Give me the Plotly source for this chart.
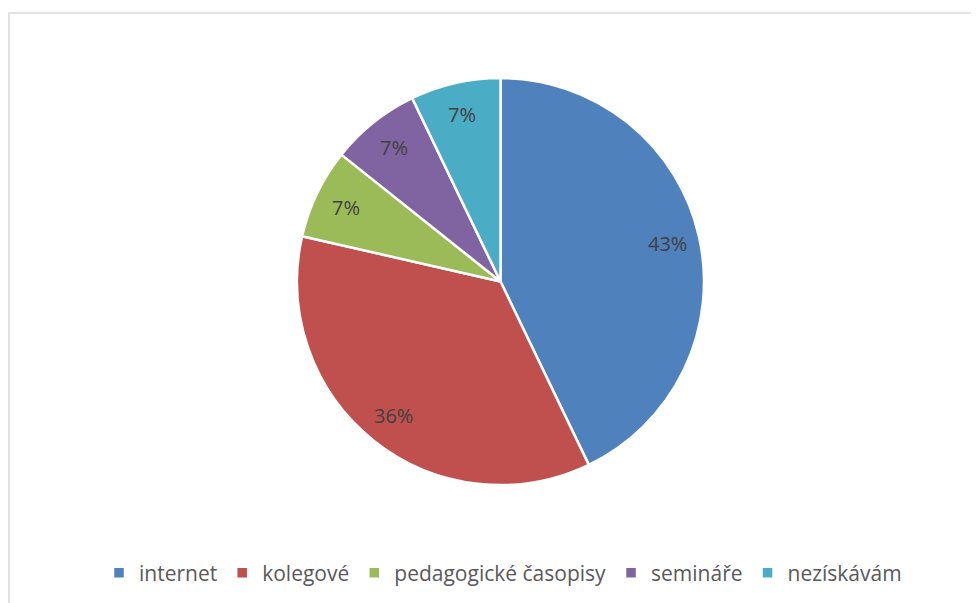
import math
import plotly.graph_objects as go

categories = ["internet", "kolegové", "pedagogické časopisy", "semináře", "nezískávám"]
counts = [6, 5, 1, 1, 1]
colors = ["#4F81BD", "#C0504D", "#9BBB59", "#8064A2", "#4BACC6"]

OFF = 8  # page body margin
W, H = 979 - OFF, 603 - OFF
CX, CY, RAD = 500.5 - OFF, 281.5 - OFF, 203.5  # pie centre / radius in figure pixels
LABEL_R = 0.84

fig = go.Figure(go.Pie(
    labels=categories,
    values=counts,
    sort=False,
    direction="clockwise",
    rotation=0,
    domain=dict(x=[(CX - RAD) / W, (CX + RAD) / W],
                y=[1 - (CY + RAD) / H, 1 - (CY - RAD) / H]),
    marker=dict(colors=colors, line=dict(color="white", width=2.5)),
    textinfo="none",
    hoverinfo="label+percent",
))

# data labels placed along each slice's bisector
total = sum(counts)
annotations = []
cum = 0
for c in counts:
    mid = (cum + c / 2) / total * 2 * math.pi
    cum += c
    px = CX + LABEL_R * RAD * math.sin(mid)
    py = CY - LABEL_R * RAD * math.cos(mid)
    annotations.append(dict(
        x=px / W, y=1 - py / H, xref="paper", yref="paper",
        text=f"{round(100 * c / total)}%", showarrow=False,
        font=dict(family="Open Sans", size=20, color="#404040"),
        xanchor="center", yanchor="middle",
    ))

fig.update_layout(
    width=W, height=H,
    margin=dict(l=0, r=0, t=0, b=0, autoexpand=False),
    paper_bgcolor="white",
    plot_bgcolor="white",
    font=dict(family="Open Sans", size=20, color="#595959"),
    showlegend=True,
    legend=dict(
        orientation="h",
        x=(503 - OFF) / W, xanchor="center",
        y=1 - (573 - OFF) / H, yanchor="middle",
        font=dict(family="Open Sans", size=21, color="#595959"),
        itemwidth=30,
        bgcolor="rgba(0,0,0,0)",
    ),
    annotations=annotations,
    shapes=[dict(
        type="rect", xref="paper", yref="paper",
        x0=1 / W, x1=1.02,
        y0=-0.05, y1=1 - (13 - OFF) / H,
        line=dict(color="#D9D9D9", width=1.5),
        fillcolor="rgba(0,0,0,0)",
        layer="below",
    )],
)

fig.write_html("out.html")
